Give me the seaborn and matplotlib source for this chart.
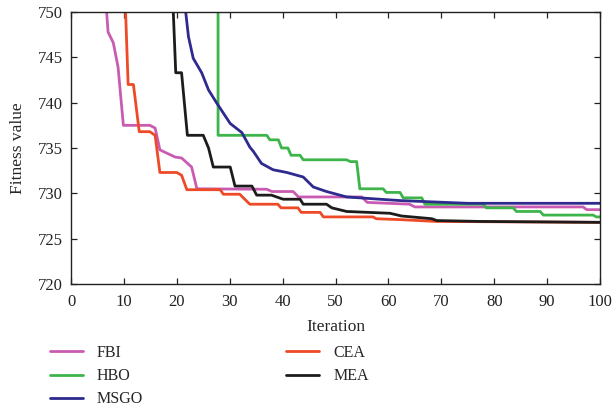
import matplotlib
matplotlib.use("Agg")
import matplotlib.pyplot as plt
import seaborn as sns
import pandas as pd

# Convergence curves (iteration, fitness)
fbi_x = [6.5, 7.0, 8.0, 8.9, 9.9, 14.9, 15.9, 16.8, 17.5, 19.7, 20.9, 22.8, 23.8, 37.0, 38.0, 42.0, 43.0, 55.0, 56.0, 64.0, 65.0, 96.8, 97.5, 100]
fbi_y = [752, 747.8, 746.6, 743.9, 737.5, 737.5, 737.2, 734.8, 734.6, 734.0, 733.9, 732.9, 730.5, 730.45, 730.2, 730.2, 729.6, 729.6, 729.0, 728.8, 728.5, 728.5, 728.2, 728.2]

hbo_x = [27.8, 27.8, 37.0, 37.6, 39.2, 39.8, 41.0, 41.6, 43.3, 43.9, 52.1, 52.8, 54.0, 54.6, 59.0, 59.6, 62.2, 62.8, 66.3, 66.9, 77.9, 78.5, 83.6, 84.2, 88.7, 89.3, 98.7, 99.3, 100]
hbo_y = [752, 736.4, 736.4, 735.9, 735.9, 735.0, 735.0, 734.2, 734.2, 733.7, 733.7, 733.5, 733.5, 730.5, 730.5, 730.1, 730.1, 729.5, 729.5, 728.8, 728.8, 728.4, 728.4, 728.0, 728.0, 727.6, 727.6, 727.4, 727.4]

msgo_x = [21.3, 22.2, 23.1, 24.7, 26.0, 27.5, 30.1, 32.3, 33.8, 34.5, 36.0, 38.2, 40.8, 43.9, 45.8, 48.3, 52.1, 58.4, 62.2, 75.0, 100]
msgo_y = [752, 747.3, 744.9, 743.3, 741.4, 740.0, 737.7, 736.7, 735.1, 734.6, 733.3, 732.6, 732.3, 731.8, 730.7, 730.2, 729.6, 729.35, 729.2, 728.9, 728.9]

cea_x = [10.2, 10.8, 11.8, 12.9, 14.9, 15.9, 16.8, 20.0, 20.9, 21.9, 28.2, 28.8, 31.9, 33.8, 39.1, 39.7, 42.9, 43.5, 47.1, 47.7, 57.1, 57.7, 62.2, 69.0, 100]
cea_y = [752, 742.0, 742.0, 736.8, 736.8, 736.4, 732.3, 732.3, 732.0, 730.4, 730.4, 729.9, 729.9, 728.8, 728.8, 728.4, 728.4, 727.9, 727.9, 727.4, 727.4, 727.2, 727.1, 726.9, 726.8]

mea_x = [19.2, 19.8, 20.9, 22.0, 25.0, 26.0, 26.9, 30.1, 31.0, 34.2, 35.1, 37.9, 40.1, 43.3, 43.9, 48.3, 49.3, 52.1, 60.3, 62.5, 68.2, 69.1, 77.3, 100]
mea_y = [752, 743.3, 743.3, 736.4, 736.4, 735.0, 732.9, 732.9, 730.8, 730.8, 729.8, 729.8, 729.35, 729.35, 728.8, 728.8, 728.4, 728.0, 727.8, 727.5, 727.2, 727.0, 726.9, 726.8]

series = ["FBI", "HBO", "MSGO", "CEA", "MEA"]
colors = ["#C95CB2", "#3DB54A", "#2E2A8E", "#EE4A28", "#1C1C1C"]

frames = []
for name, xs, ys in [("FBI", fbi_x, fbi_y), ("HBO", hbo_x, hbo_y), ("MSGO", msgo_x, msgo_y),
                     ("CEA", cea_x, cea_y), ("MEA", mea_x, mea_y)]:
    frames.append(pd.DataFrame({"Iteration": xs, "Fitness": ys, "Algorithm": name}))
df = pd.concat(frames, ignore_index=True)

sns.set_style("ticks")
plt.rcParams["font.family"] = ["Liberation Serif", "DejaVu Serif"]
plt.rcParams["axes.edgecolor"] = "#222222"

fig = plt.figure(figsize=(6.13, 4.09), dpi=100)
ax = fig.add_axes([71/613, 1-284/409, (600-71)/613, (284-12)/409])

sns.lineplot(data=df, x="Iteration", y="Fitness", hue="Algorithm", hue_order=series,
             palette=colors, sort=False, estimator=None, linewidth=2.0, ax=ax, legend=True)

ax.set_xlim(0, 100)
ax.set_ylim(720, 750)
ax.set_xticks(range(0, 101, 10))
ax.set_yticks(range(720, 751, 5))
ax.tick_params(direction="in", top=True, right=True, labelsize=12, length=4, width=0.9,
               colors="#222222")
ax.tick_params(axis="x", pad=7)
ax.tick_params(axis="y", pad=6)
for s in ax.spines.values():
    s.set_linewidth(1.0)
ax.set_xlabel("Iteration", fontsize=12.5, labelpad=7)
ax.set_ylabel("Fitness value", fontsize=12.5, labelpad=8)

handles, labels = ax.get_legend_handles_labels()
ax.get_legend().remove()
fig.legend(handles, labels, ncol=2, loc="upper left", bbox_to_anchor=(50/613, 1-345/409),
           frameon=False, fontsize=11.5, handlelength=2.07, handletextpad=0.87,
           labelspacing=0.45, columnspacing=8.95, borderpad=0, borderaxespad=0)

fig.savefig("out.png", dpi=100)
